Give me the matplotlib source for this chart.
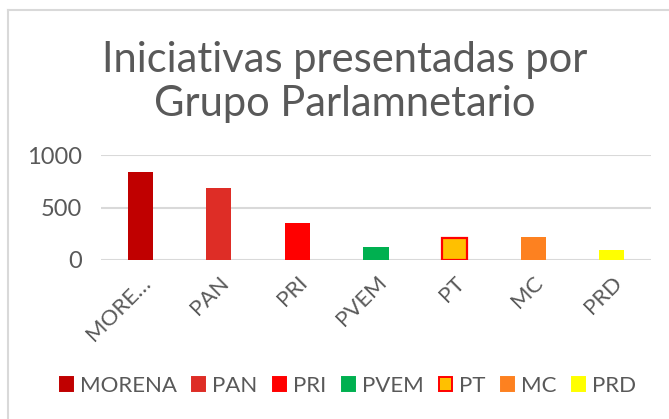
import matplotlib
matplotlib.use("Agg")
import matplotlib.pyplot as plt
from matplotlib.lines import Line2D
from matplotlib.patches import Patch

# data
partidos = ["MORENA", "PAN", "PRI", "PVEM", "PT", "MC", "PRD"]
tick_labels = ["MORE…", "PAN", "PRI", "PVEM", "PT", "MC", "PRD"]
iniciativas = [837, 685, 350, 121, 210, 215, 93]
colores = ["#C00000", "#DE2D26", "#FF0000", "#00B050", "#FFC000", "#FD8120", "#FFFF00"]
bordes = ["none", "none", "none", "none", "#FF0000", "none", "none"]
yticks = [0, 500, 1000]

TXT = "#595959"
GRID = "#D9D9D9"

plt.rcParams["font.family"] = ["Lato", "DejaVu Sans"]

fig = plt.figure(figsize=(6.69, 4.19), dpi=100)
ax = fig.add_axes([101 / 669, 1 - 260 / 419, 550 / 669, 105 / 419])

x = list(range(len(partidos)))
for i in x:
    ax.bar(i, iniciativas[i], width=0.32, color=colores[i],
           edgecolor=bordes[i], linewidth=1.6 if bordes[i] != "none" else 0,
           zorder=3)

ax.set_xlim(-0.5, len(partidos) - 0.5)
ax.set_ylim(0, 1000)
ax.set_yticks(yticks)
ax.set_yticklabels([str(v) for v in yticks], fontsize=17, color=TXT)
ax.set_xticks(x)
ax.set_xticklabels(tick_labels, rotation=45, ha="right", rotation_mode="anchor",
                   fontsize=16, color=TXT)
ax.tick_params(axis="x", length=0, pad=9)
ax.tick_params(axis="y", length=0, pad=14)
ax.grid(axis="y", color=GRID, linewidth=1.5, zorder=0)
for s in ax.spines.values():
    s.set_visible(False)

fig.text(345 / 669, 1 - 72 / 419, "Iniciativas presentadas por", ha="center",
         va="baseline", fontsize=30, color=TXT)
fig.text(345 / 669, 1 - 116 / 419, "Grupo Parlamnetario", ha="center",
         va="baseline", fontsize=30, color=TXT)

handles = [Patch(facecolor=c, edgecolor=(b if b != "none" else c), linewidth=1.4)
           for c, b in zip(colores, bordes)]
fig.legend(handles, partidos, loc="center", bbox_to_anchor=(0.52, 1 - 386 / 419),
           ncol=7, frameon=False, fontsize=16, labelcolor=TXT,
           handlelength=0.6, handleheight=0.6, handletextpad=0.3,
           columnspacing=0.7)

# chart frame (cropped on the right and bottom in the reference)
fig.add_artist(Line2D([8 / 669, 1], [1 - 10 / 419] * 2, color=GRID, lw=1.5))
fig.add_artist(Line2D([8 / 669] * 2, [0, 1 - 10 / 419], color=GRID, lw=1.5))

fig.savefig("out.png", dpi=100)
